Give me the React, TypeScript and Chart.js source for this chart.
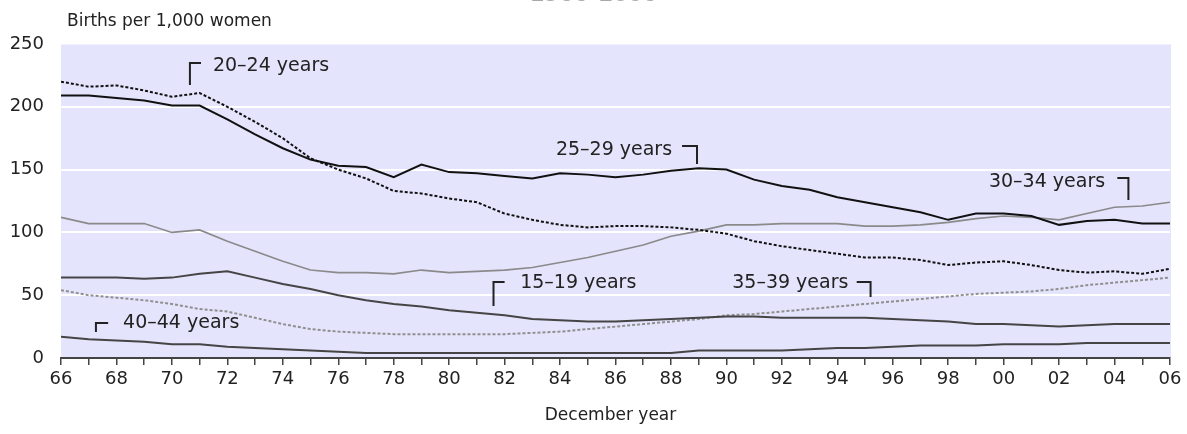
import React, { useEffect, useRef } from 'react';
import { Chart, registerables } from 'chart.js';

Chart.register(...registerables);

const years = [
  1966, 1967, 1968, 1969, 1970, 1971, 1972, 1973, 1974, 1975,
  1976, 1977, 1978, 1979, 1980, 1981, 1982, 1983, 1984, 1985,
  1986, 1987, 1988, 1989, 1990, 1991, 1992, 1993, 1994, 1995,
  1996, 1997, 1998, 1999, 2000, 2001, 2002, 2003, 2004, 2005, 2006,
];

const rate15to19 = [
  64, 64, 64, 63, 64, 67, 69, 64, 59, 55,
  50, 46, 43, 41, 38, 36, 34, 31, 30, 29,
  29, 30, 31, 32, 33, 33, 32, 32, 32, 32,
  31, 30, 29, 27, 27, 26, 25, 26, 27, 27, 27,
];

const rate20to24 = [
  220, 216, 217, 213, 208, 211, 200, 188, 175, 159,
  150, 143, 133, 131, 127, 124, 115, 110, 106, 104,
  105, 105, 104, 102, 99, 93, 89, 86, 83, 80,
  80, 78, 74, 76, 77, 74, 70, 68, 69, 67, 71,
];

const rate25to29 = [
  209, 209, 207, 205, 201, 201, 190, 178, 167, 158,
  153, 152, 144, 154, 148, 147, 145, 143, 147, 146,
  144, 146, 149, 151, 150, 142, 137, 134, 128, 124,
  120, 116, 110, 115, 115, 113, 106, 109, 110, 107, 107,
];

const rate30to34 = [
  112, 107, 107, 107, 100, 102, 93, 85, 77, 70,
  68, 68, 67, 70, 68, 69, 70, 72, 76, 80,
  85, 90, 97, 101, 106, 106, 107, 107, 107, 105,
  105, 106, 108, 111, 113, 112, 110, 115, 120, 121, 124,
];

const rate35to39 = [
  54, 50, 48, 46, 43, 39, 37, 32, 27, 23,
  21, 20, 19, 19, 19, 19, 19, 20, 21, 23,
  25, 27, 29, 31, 34, 35, 37, 39, 41, 43,
  45, 47, 49, 51, 52, 53, 55, 58, 60, 62, 64,
];

const rate40to44 = [
  17, 15, 14, 13, 11, 11, 9, 8, 7, 6,
  5, 4, 4, 4, 4, 4, 4, 4, 4, 4,
  4, 4, 4, 6, 6, 6, 6, 7, 8, 8,
  9, 10, 10, 10, 11, 11, 11, 12, 12, 12, 12,
];

const yTickValues = [0, 50, 100, 150, 200, 250];

const titleText = '1966–2006';
const yAxisTitle = 'Births per 1,000 women';
const xAxisTitle = 'December year';

// Series labels placed in data coordinates (year, rate)
const labelTexts = ['20–24 years', '25–29 years', '30–34 years', '15–19 years', '35–39 years', '40–44 years'];
const labelTextYear = [1971.48, 1988.04, 2003.66, 1982.56, 1994.4, 1968.24];
const labelTextRate = [232.5, 165.6, 140.1, 59.7, 59.7, 27.9];
const labelAlign = ['left', 'right', 'right', 'left', 'right', 'left'];
const bracketCornerYear = [1970.65, 1988.94, 2004.5, 1981.6, 1995.2, 1967.26];
const bracketCornerRate = [234.9, 168.8, 143.3, 60.5, 60.5, 27.9];
const bracketArmYear = [1971.05, 1988.4, 2004.1, 1982.0, 1994.7, 1967.7];
const bracketTailRate = [217.4, 154.5, 125.8, 41.4, 48.6, 20.7];

const FONT = 'DejaVu Sans';

const toPoints = (vals: number[]) => years.map((y, i) => ({ x: y, y: vals[i] }));

const decorPlugin = {
  id: 'decor',
  beforeDraw(chart: any) {
    const { ctx, chartArea: a } = chart;
    ctx.save();
    ctx.fillStyle = '#E4E4FC';
    ctx.fillRect(a.left, a.top, a.right - a.left + 1, a.bottom - a.top);
    ctx.restore();
  },
  afterDraw(chart: any) {
    const { ctx, chartArea: a, scales } = chart;
    const xs = scales.x;
    const ys = scales.y;
    ctx.save();
    // cut-off title
    ctx.fillStyle = '#a8a8a8';
    ctx.font = `bold 21px ${FONT}`;
    ctx.textAlign = 'center';
    ctx.textBaseline = 'alphabetic';
    ctx.fillText(titleText, (a.left + a.right) / 2 - 22, 1);
    // y axis title
    ctx.fillStyle = '#222';
    ctx.font = `17px ${FONT}`;
    ctx.textAlign = 'left';
    ctx.textBaseline = 'middle';
    ctx.fillText(yAxisTitle, a.left + 6, 22);
    // x axis title
    ctx.textAlign = 'center';
    ctx.font = `17px ${FONT}`;
    ctx.fillText(xAxisTitle, (a.left + a.right) / 2 - 5, a.bottom + 58);
    // series labels
    ctx.font = `19px ${FONT}`;
    ctx.strokeStyle = '#222';
    ctx.lineWidth = 2;
    for (let i = 0; i < labelTexts.length; i++) {
      ctx.textAlign = labelAlign[i] as CanvasTextAlign;
      ctx.fillText(labelTexts[i], xs.getPixelForValue(labelTextYear[i]), ys.getPixelForValue(labelTextRate[i]));
      const cx = xs.getPixelForValue(bracketCornerYear[i]);
      const cy = ys.getPixelForValue(bracketCornerRate[i]);
      ctx.beginPath();
      ctx.moveTo(xs.getPixelForValue(bracketArmYear[i]), cy);
      ctx.lineTo(cx, cy);
      ctx.lineTo(cx, ys.getPixelForValue(bracketTailRate[i]));
      ctx.stroke();
    }
    ctx.restore();
  },
};

export default function App() {
  const ref = useRef<HTMLCanvasElement | null>(null);
  useEffect(() => {
    if (!ref.current) return;
    const chart = new Chart(ref.current, {
      type: 'line',
      data: {
        datasets: [
          { label: '20–24 years', data: toPoints(rate20to24), borderColor: '#111', borderWidth: 2, borderDash: [3, 2] },
          { label: '25–29 years', data: toPoints(rate25to29), borderColor: '#111', borderWidth: 2 },
          { label: '30–34 years', data: toPoints(rate30to34), borderColor: '#8a8a8a', borderWidth: 1.6 },
          { label: '15–19 years', data: toPoints(rate15to19), borderColor: '#454545', borderWidth: 2 },
          { label: '35–39 years', data: toPoints(rate35to39), borderColor: '#8f8f8f', borderWidth: 2, borderDash: [3, 2] },
          { label: '40–44 years', data: toPoints(rate40to44), borderColor: '#454545', borderWidth: 2 },
        ].map((d) => ({ ...d, pointRadius: 0, tension: 0, fill: false })),
      },
      options: {
        animation: false,
        responsive: false,
        maintainAspectRatio: false,
        layout: { padding: { left: 0, right: 17, top: 44, bottom: 0 } },
        plugins: { legend: { display: false }, tooltip: { enabled: false }, title: { display: false } },
        scales: {
          x: {
            type: 'linear',
            min: 1966,
            max: 2006,
            afterFit: (s: any) => { s.height = 76; },
            border: { display: true, color: '#444', width: 2 },
            grid: { drawOnChartArea: false, drawTicks: true, tickLength: 7, color: '#444', lineWidth: 1.5 },
            ticks: {
              stepSize: 1,
              autoSkip: false,
              maxTicksLimit: 100,
              maxRotation: 0,
              padding: 4,
              color: '#222',
              font: { family: FONT, size: 18 },
              callback: (v: any) => (Number(v) % 2 === 0 ? String(Number(v) % 100).padStart(2, '0') : ''),
            },
          },
          y: {
            min: 0,
            max: 250,
            afterFit: (s: any) => { s.width = 61; },
            afterBuildTicks: (s: any) => { s.ticks = yTickValues.map((v) => ({ value: v })); },
            border: { display: false },
            grid: {
              drawTicks: false,
              lineWidth: 2,
              color: (c: any) => (c.tick && c.tick.value === 0 ? 'rgba(0,0,0,0)' : c.tick && c.tick.value === 250 ? 'rgba(255,255,255,0.5)' : '#ffffff'),
            },
            ticks: { padding: 17, color: '#222', font: { family: FONT, size: 18 } },
          },
        },
      },
      plugins: [decorPlugin],
    } as any);
    return () => chart.destroy();
  }, []);
  return (
    <div style={{ position: 'fixed', left: 0, top: 0, width: 1187, height: 434, background: '#fff' }}>
      <canvas ref={ref} width={1187} height={434} style={{ width: 1187, height: 434, display: 'block' }} />
    </div>
  );
}
